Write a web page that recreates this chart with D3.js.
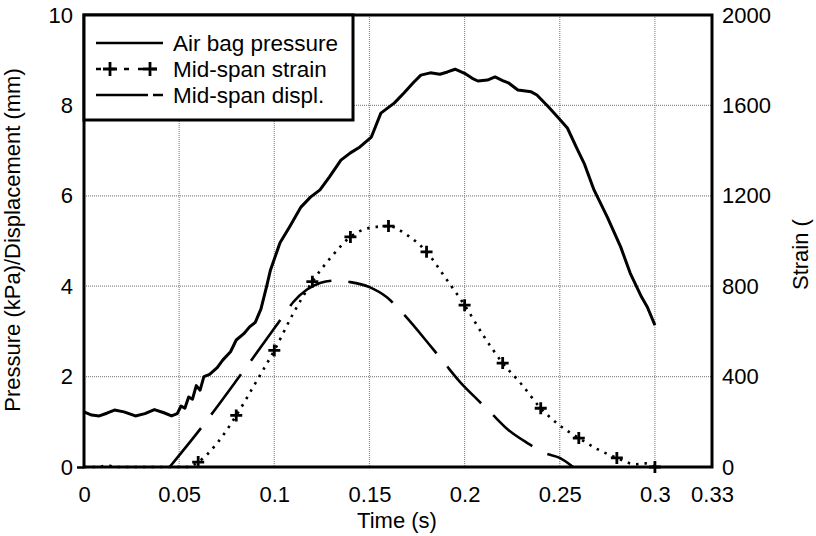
<!DOCTYPE html>
<html>
<head>
<meta charset="utf-8">
<script src="https://cdn.jsdelivr.net/npm/d3@7"></script>
<style>
body { margin: 0; background: #fff; }
text { font-family: "Liberation Sans", Arial, sans-serif; fill: #000; }
</style>
</head>
<body>
<div id="chart"></div>
<script>
// time ticks (s) and left/right axis ticks
const X_TICKS = [0, 0.05, 0.1, 0.15, 0.2, 0.25, 0.3, 0.33];
const Y_TICKS = [0, 2, 4, 6, 8, 10];
const Y2_TICKS = [0, 400, 800, 1200, 1600, 2000];

// Air bag pressure (kPa)
const pressureT = [0, 0.004, 0.008, 0.012, 0.016, 0.021, 0.027, 0.032, 0.037, 0.042, 0.046, 0.049, 0.051, 0.053, 0.055, 0.057, 0.059, 0.061, 0.063, 0.066, 0.070, 0.073, 0.077, 0.080, 0.084, 0.087, 0.090, 0.093, 0.096, 0.098, 0.103, 0.108, 0.114, 0.119, 0.124, 0.129, 0.135, 0.140, 0.145, 0.151, 0.156, 0.163, 0.168, 0.173, 0.177, 0.182, 0.187, 0.191, 0.195, 0.200, 0.204, 0.207, 0.212, 0.216, 0.220, 0.223, 0.228, 0.235, 0.238, 0.244, 0.249, 0.254, 0.259, 0.263, 0.268, 0.275, 0.282, 0.287, 0.293, 0.296, 0.300];
const pressureV = [1.22, 1.15, 1.13, 1.19, 1.26, 1.22, 1.13, 1.18, 1.27, 1.2, 1.13, 1.18, 1.35, 1.3, 1.55, 1.5, 1.8, 1.7, 2.0, 2.05, 2.2, 2.37, 2.55, 2.81, 2.95, 3.1, 3.2, 3.5, 4.0, 4.36, 4.96, 5.31, 5.75, 5.97, 6.13, 6.42, 6.79, 6.95, 7.08, 7.3, 7.83, 8.05, 8.27, 8.5, 8.67, 8.72, 8.69, 8.74, 8.8, 8.71, 8.6, 8.54, 8.56, 8.63, 8.55, 8.5, 8.34, 8.3, 8.23, 7.97, 7.74, 7.5, 7.05, 6.7, 6.13, 5.53, 4.87, 4.29, 3.76, 3.54, 3.14];

// Mid-span strain (right axis)
const strainT = [0, 0.008, 0.012, 0.016, 0.054, 0.06, 0.07, 0.08, 0.09, 0.10, 0.11, 0.12, 0.13, 0.14, 0.15, 0.16, 0.17, 0.18, 0.19, 0.20, 0.21, 0.22, 0.23, 0.24, 0.25, 0.26, 0.27, 0.28, 0.29, 0.295, 0.30];
const strainV = [0, 0, 8, 0, 0, 22, 106, 228, 370, 516, 680, 820, 930, 1018, 1058, 1066, 1025, 952, 836, 716, 580, 460, 365, 260, 184, 128, 78, 40, 12, 16, 0];
const strainMarkT = [0.06, 0.08, 0.10, 0.12, 0.14, 0.16, 0.18, 0.20, 0.22, 0.24, 0.26, 0.28, 0.30];

// Mid-span displacement (mm)
const displT = [0.045, 0.062, 0.083, 0.104, 0.110, 0.117, 0.124, 0.131, 0.140, 0.150, 0.159, 0.166, 0.183, 0.189, 0.198, 0.207, 0.214, 0.223, 0.233, 0.242, 0.250, 0.257];
const displV = [0, 0.89, 2.08, 3.3, 3.65, 3.92, 4.07, 4.12, 4.09, 3.98, 3.76, 3.47, 2.63, 2.32, 1.86, 1.48, 1.19, 0.82, 0.53, 0.31, 0.2, 0.0];

const LEGEND = ["Air bag pressure", "Mid-span strain", "Mid-span displ."];

const svgWidth = 816, svgHeight = 536;
const margin = { top: 15, right: 104, bottom: 69, left: 84 };
const width = svgWidth - margin.left - margin.right;
const height = svgHeight - margin.top - margin.bottom;

const svg = d3.select("#chart").append("svg")
  .attr("width", svgWidth)
  .attr("height", svgHeight);

const chart = svg.append("g")
  .attr("transform", `translate(${margin.left},${margin.top})`);

const x = d3.scaleLinear().domain([0, 0.33]).range([0, width]);
const y = d3.scaleLinear().domain([0, 10]).range([height, 0]);
const y2 = d3.scaleLinear().domain([0, 2000]).range([height, 0]);

// grid
chart.selectAll(".vgrid")
  .data(X_TICKS.filter(d => d > 0 && d < 0.33))
  .enter().append("line")
  .attr("x1", d => x(d)).attr("x2", d => x(d))
  .attr("y1", 0).attr("y2", height)
  .attr("stroke", "#8a8a8a").attr("stroke-width", 1.2)
  .attr("stroke-dasharray", "1,1");

chart.selectAll(".hgrid")
  .data(Y_TICKS.filter(d => d > 0 && d < 10))
  .enter().append("line")
  .attr("x1", 0).attr("x2", width)
  .attr("y1", d => y(d)).attr("y2", d => y(d))
  .attr("stroke", "#8a8a8a").attr("stroke-width", 1.2)
  .attr("stroke-dasharray", "1,1");

// axes (labels only, frame drawn below)
const fmtX = d => d === 0 ? "0" : String(d);

const xAxis = chart.append("g")
  .attr("transform", `translate(0,${height})`)
  .call(d3.axisBottom(x).tickValues(X_TICKS).tickFormat(fmtX).tickSize(0).tickPadding(19));

const yAxis = chart.append("g")
  .call(d3.axisLeft(y).tickValues(Y_TICKS).tickSize(0).tickPadding(11));

const y2Axis = chart.append("g")
  .attr("transform", `translate(${width},0)`)
  .call(d3.axisRight(y2).tickValues(Y2_TICKS).tickFormat(d3.format("d")).tickSize(0).tickPadding(10));

chart.append("g")
  .call(d3.axisLeft(y).tickValues([0]).tickFormat("").tickSize(7).tickSizeOuter(0))
  .call(g => g.select(".domain").remove())
  .selectAll("line").attr("stroke", "#000").attr("stroke-width", 2.5);

[xAxis, yAxis, y2Axis].forEach(g => {
  g.select(".domain").remove();
  g.selectAll("text")
    .attr("font-size", 22)
    .attr("font-family", "'Liberation Sans', Arial, sans-serif")
    .attr("fill", "#000");
});

// lines
const pressure = pressureT.map((t, i) => ({ t, v: pressureV[i] }));
const strain = strainT.map((t, i) => ({ t, v: strainV[i] }));
const displ = displT.map((t, i) => ({ t, v: displV[i] }));
const marks = strainMarkT.map(t => strain.find(d => Math.abs(d.t - t) < 1e-9));

chart.append("path")
  .datum(strain)
  .attr("fill", "none")
  .attr("stroke", "#000")
  .attr("stroke-width", 2.6)
  .attr("stroke-dasharray", "2.5,6")
  .attr("d", d3.line().x(d => x(d.t)).y(d => y2(d.v)).curve(d3.curveMonotoneX));

chart.append("path")
  .datum(displ)
  .attr("fill", "none")
  .attr("stroke", "#000")
  .attr("stroke-width", 2.6)
  .attr("stroke-dasharray", "50,17")
  .attr("d", d3.line().x(d => x(d.t)).y(d => y(d.v)).curve(d3.curveMonotoneX));

chart.append("path")
  .datum(pressure)
  .attr("fill", "none")
  .attr("stroke", "#000")
  .attr("stroke-width", 3)
  .attr("stroke-linejoin", "round")
  .attr("d", d3.line().x(d => x(d.t)).y(d => y(d.v)));

chart.selectAll(".mark")
  .data(marks)
  .enter().append("path")
  .attr("transform", d => `translate(${x(d.t)},${y2(d.v)})`)
  .attr("d", "M-6,0H6M0,-6V6")
  .attr("stroke", "#000")
  .attr("stroke-width", 2.8)
  .attr("fill", "none");

// frame
chart.append("rect")
  .attr("x", 0).attr("y", 0)
  .attr("width", width).attr("height", height)
  .attr("fill", "none")
  .attr("stroke", "#000")
  .attr("stroke-width", 3);

// legend
const legend = chart.append("g");
legend.append("rect")
  .attr("x", 0).attr("y", 0)
  .attr("width", 269).attr("height", 105)
  .attr("fill", "#fff")
  .attr("stroke", "#000")
  .attr("stroke-width", 3);

const rowY = [28, 54, 80];
legend.selectAll(".ltext")
  .data(LEGEND)
  .enter().append("text")
  .attr("x", 89)
  .attr("y", (d, i) => rowY[i])
  .attr("dy", "0.36em")
  .attr("font-size", 22.5)
  .text(d => d);

legend.append("line")
  .attr("x1", 12).attr("x2", 79)
  .attr("y1", rowY[0]).attr("y2", rowY[0])
  .attr("stroke", "#000").attr("stroke-width", 2.6);

legend.append("line")
  .attr("x1", 12).attr("x2", 79)
  .attr("y1", rowY[1]).attr("y2", rowY[1])
  .attr("stroke", "#000").attr("stroke-width", 2.6)
  .attr("stroke-dasharray", "5,9");

legend.selectAll(".lmark")
  .data([26, 66])
  .enter().append("path")
  .attr("transform", d => `translate(${d},${rowY[1]})`)
  .attr("d", "M-7,0H7M0,-7V7")
  .attr("stroke", "#000")
  .attr("stroke-width", 2.8);

legend.append("line")
  .attr("x1", 12).attr("x2", 79)
  .attr("y1", rowY[2]).attr("y2", rowY[2])
  .attr("stroke", "#000").attr("stroke-width", 2.6)
  .attr("stroke-dasharray", "52,5");

// axis titles
chart.append("text")
  .attr("x", width * 0.5 - 1)
  .attr("y", height + 61)
  .attr("text-anchor", "middle")
  .attr("font-size", 22)
  .text("Time (s)");

chart.append("text")
  .attr("transform", `translate(${-64},${height / 2 - 1}) rotate(-90)`)
  .attr("text-anchor", "middle")
  .attr("font-size", 22)
  .text("Pressure (kPa)/Displacement (mm)");

chart.append("text")
  .attr("transform", `translate(${width + 96},${275}) rotate(-90)`)
  .attr("text-anchor", "start")
  .attr("font-size", 22)
  .text("Strain (");
</script>
</body>
</html>
